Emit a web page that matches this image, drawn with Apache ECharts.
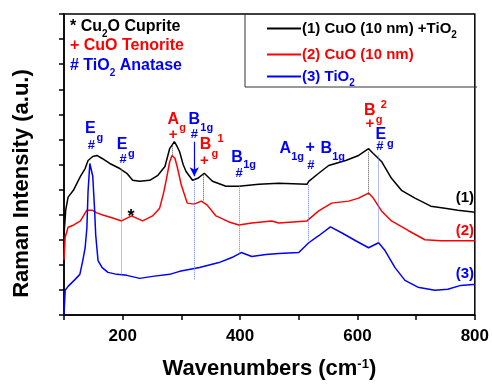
<!DOCTYPE html>
<html>
<head>
<meta charset="utf-8">
<script src="https://cdn.jsdelivr.net/npm/echarts@6/dist/echarts.min.js"></script>
<style>html,body{margin:0;padding:0;background:#fff}#c{width:492px;height:385px}</style>
</head>
<body>
<div id="c"></div>
<script>
// ---- data ----
const wnBlack = [100,103,107,116,128,136,141,149,156,165,178,195,207,217,229,246,260,272,280,285,288,292,297,303,308,319,328,339,353,376,398,432,466,514,517,534,551,580,602,619,627,641,658,675,698,725,749,771,797,800];
const intBlack = [3.2,4.2,4.7,4.97,5.53,5.84,6.16,6.32,6.36,6.24,6.04,5.84,5.65,5.37,5.33,5.37,5.57,5.92,6.63,6.8,6.91,6.75,6.51,6.0,5.72,5.37,5.45,5.65,5.33,5.13,5.13,5.21,5.25,5.21,5.33,5.65,5.96,6.16,6.36,6.63,6.44,6.12,5.45,4.97,4.66,4.34,4.26,4.18,4.11,4.08];

const wnRed = [100,102,107,116,128,139,148,156,166,183,198,215,234,251,263,270,276,280,284,289,293,300,310,322,334,344,359,381,398,420,454,466,514,517,534,556,585,602,619,627,641,658,687,715,742,771,797,800];
const intRed = [2.2,3.1,3.5,3.58,3.75,4.18,4.18,4.07,3.99,3.87,3.75,3.95,3.75,3.95,4.26,4.9,5.6,6.1,6.36,6.25,5.9,5.17,4.46,4.42,4.54,4.38,3.95,3.71,3.59,3.67,3.75,3.67,3.75,3.79,4.15,4.46,4.54,4.66,4.86,4.66,4.15,3.75,3.36,3.0,2.96,2.96,2.96,2.96];

const wnBlue = [100,102,107,119,127,132,136,139,141,144,147,149,152,154,156,158,165,175,190,207,229,251,280,297,331,364,386,402,420,444,466,500,517,534,554,573,597,619,636,647,664,681,703,732,754,776,797,800];
const intBlue = [0,0.99,1.14,1.42,1.62,2.17,2.68,3.47,4.93,6.04,6.0,5.53,4.26,3.2,2.68,2.17,1.89,1.70,1.62,1.58,1.46,1.54,1.62,1.74,1.89,2.09,2.29,2.49,2.33,2.41,2.45,2.49,2.88,3.16,3.51,3.28,2.96,2.68,2.88,2.57,1.89,1.38,1.11,0.99,1.03,1.18,1.22,1.22];

const seriesNames = ['(1) CuO (10 nm) +TiO2', '(2) CuO (10 nm)', '(3) TiO2'];
const xTicks = [200, 400, 600, 800];

// reference lines: [wavenumber, from, to, kind]
const refLines = [
  [198, 5.84, 1.58, 'b'],
  [285, 6.75, 6.36, 'k'],
  [322, 5.45, 1.38, 'b'],
  [338, 5.57, 4.54, 'k'],
  [398, 5.13, 2.41, 'b'],
  [517, 5.17, 2.96, 'b'],
  [619, 6.51, 4.78, 'k'],
  [636, 6.36, 2.88, 'b']
];
const arrowLine = [322, 6.91, 5.53];

// peak annotation anchors [wavenumber, intensity]
const peakAnchors = {
  Eg1: [145, 7.42], Eg2: [199, 6.79], star: [214, 3.99], Ag: [286, 7.78],
  B1g1: [322, 7.78], Bg1: [341, 6.79], B1g2: [395, 6.28], A1gB1g: [477, 6.65],
  Bg2: [621, 8.15], Eg3: [640, 7.19], lab1: [783, 4.66], lab2: [783, 3.36], lab3: [783, 1.64]
};

const zip = (a, b) => a.map((v, i) => [v, b[i]]);
const FF = '"Liberation Sans", Arial, sans-serif';
const BLUE = '#0000ff', RED = '#ff0000', BLACK = '#000000';

const chart = echarts.init(document.getElementById('c'), null, {renderer: 'canvas'});

const mlData = refLines.map(r => [
  {coord: [r[0], r[1]], lineStyle: {color: r[3] === 'b' ? '#6a7dff' : '#555', type: 'dotted', width: 1}},
  {coord: [r[0], r[2]]}
]);

chart.setOption({
  animation: false,
  grid: {left: 64, right: 15, top: 14, bottom: 67, show: true, borderColor: '#000', borderWidth: 1.5},
  xAxis: {
    type: 'value', min: 100, max: 800, interval: 100,
    name: 'Wavenumbers (cm{sup|-1})', nameLocation: 'middle', nameGap: 43,
    nameTextStyle: {fontFamily: FF, fontSize: 22, fontWeight: 'bold', color: '#000',
      rich: {sup: {fontFamily: FF, fontSize: 13, fontWeight: 'bold', verticalAlign: 'top', color: '#000'}}},
    axisLine: {show: true, lineStyle: {color: '#000', width: 1.5}},
    axisTick: {show: true, inside: false, length: 5, lineStyle: {color: '#000', width: 1.5}},
    axisLabel: {fontFamily: FF, fontSize: 17, fontWeight: 'bold', color: '#000', margin: 13,
      formatter: v => xTicks.includes(v) ? String(v) : ''},
    splitLine: {show: false}
  },
  yAxis: {
    type: 'value', min: 0, max: 12, interval: 1,
    name: 'Raman Intensity (a.u.)', nameLocation: 'middle', nameGap: 31,
    nameTextStyle: {fontFamily: FF, fontSize: 22, fontWeight: 'bold', color: '#000', padding: [0, 38, 0, 0]},
    axisLine: {show: true, lineStyle: {color: '#000', width: 1.5}},
    axisTick: {show: true, inside: false, length: 5, lineStyle: {color: '#000', width: 1.5}},
    axisLabel: {show: false},
    splitLine: {show: false}
  },
  legend: {
    orient: 'vertical', left: 262, top: 16, itemWidth: 34, itemHeight: 2, itemGap: 7,
    icon: 'rect',
    formatter: n => n.replace('TiO2', 'TiO{s|2}'),
    textStyle: {fontFamily: FF, fontSize: 15, fontWeight: 'bold', padding: [0, 0, 0, -4],
      rich: {s: {fontFamily: FF, fontSize: 10, fontWeight: 'bold', verticalAlign: 'bottom', padding: [0, 0, -4, 0]}}},
    data: [
      {name: seriesNames[0], textStyle: {color: BLACK}},
      {name: seriesNames[1], textStyle: {color: RED}},
      {name: seriesNames[2], textStyle: {color: BLUE}}
    ]
  },
  series: [
    {name: seriesNames[0], type: 'line', data: zip(wnBlack, intBlack), symbol: 'none', color: BLACK, lineStyle: {width: 1.5}, z: 3,
      markLine: {silent: true, symbol: 'none', label: {show: false}, data: mlData}},
    {name: seriesNames[1], type: 'line', data: zip(wnRed, intRed), symbol: 'none', color: RED, lineStyle: {width: 1.5}, z: 3},
    {name: seriesNames[2], type: 'line', data: zip(wnBlue, intBlue), symbol: 'none', color: BLUE, lineStyle: {width: 1.5}, z: 4,
      markLine: {silent: true, symbol: ['none', 'arrow'], symbolSize: [7, 9], label: {show: false},
        data: [[{coord: [arrowLine[0], arrowLine[1]], lineStyle: {color: BLUE, type: 'solid', width: 1.2}}, {coord: [arrowLine[0], arrowLine[2]]}]]}}
  ]
});

// ---- annotations (anchored in data space, converted by the library) ----
const P = a => chart.convertToPixel({gridIndex: 0}, a);
const gfx = [];
function txt(anchor, dx, dy, text, color, size, align) {
  const p = P(anchor);
  gfx.push({type: 'text', x: p[0] + dx, y: p[1] + dy, z: 20, silent: true,
    style: {text: text, fill: color, font: 'bold ' + size + 'px ' + FF, align: align || 'center', verticalAlign: 'middle'}});
}
const M = 16, S = 11, H = 13;
const A = peakAnchors;
txt(A.Eg1, 0, 0, 'E', BLUE, M); txt(A.Eg1, 6, 9, 'g', BLUE, S, 'left'); txt(A.Eg1, 1, 17, '#', BLUE, H);
txt(A.Eg2, 0, 0, 'E', BLUE, M); txt(A.Eg2, 6, 9, 'g', BLUE, S, 'left'); txt(A.Eg2, 1, 14.5, '#', BLUE, H);
txt(A.star, 0, 2, '*', BLACK, 18);
txt(A.Ag, 0, 0, 'A', RED, M); txt(A.Ag, 6, 8, 'g', RED, S, 'left'); txt(A.Ag, 0, 15, '+', RED, 15);
txt(A.B1g1, 0, 0, 'B', BLUE, M); txt(A.B1g1, 6, 8.5, '1g', BLUE, S, 'left'); txt(A.B1g1, 0, 15, '#', BLUE, H);
txt(A.Bg1, 0, 0, 'B', RED, M); txt(A.Bg1, 6, 9, 'g', RED, S, 'left'); txt(A.Bg1, 12, -6, '1', RED, S, 'left'); txt(A.Bg1, -1, 16.5, '+', RED, 15);
txt(A.B1g2, 0, 0, 'B', BLUE, M); txt(A.B1g2, 6, 7.5, '1g', BLUE, S, 'left'); txt(A.B1g2, 2, 16, '#', BLUE, H);
txt(A.A1gB1g, 0, 0, 'A', BLUE, M); txt(A.A1gB1g, 6, 9, '1g', BLUE, S, 'left');
txt(A.A1gB1g, 25, -0.5, '+', BLUE, M);
txt(A.A1gB1g, 41, 0, 'B', BLUE, M); txt(A.A1gB1g, 47, 9, '1g', BLUE, S, 'left');
txt(A.A1gB1g, 25.5, 17.5, '#', BLUE, H);
txt(A.Bg2, 0, 0, 'B', RED, M); txt(A.Bg2, 6, 9.5, 'g', RED, S, 'left'); txt(A.Bg2, 11, -6, '2', RED, S, 'left'); txt(A.Bg2, 0, 13.5, '+', RED, 15);
txt(A.Eg3, 0, 0, 'E', BLUE, M); txt(A.Eg3, 6, 9, 'g', BLUE, S, 'left'); txt(A.Eg3, -1, 12, '#', BLUE, H);
txt(A.lab1, 0, 0, '(1)', BLACK, 15); txt(A.lab2, 0, 0, '(2)', RED, 15); txt(A.lab3, 0, 0, '(3)', BLUE, 15);

// key of symbols (top-left)
const keyStyle = c => ({fill: c, font: 'bold 16px ' + FF, align: 'left', verticalAlign: 'middle',
  rich: {n: {fill: c, font: 'bold 16px ' + FF}, s: {fill: c, font: 'bold 10px ' + FF, verticalAlign: 'bottom', padding: [0, 0, -4, 0]}}});
gfx.push({type: 'text', left: 70, top: 19, z: 20, style: Object.assign(keyStyle(BLACK), {text: '{n|* Cu}{s|2}{n|O Cuprite}'})});
gfx.push({type: 'text', left: 70, top: 38, z: 20, style: Object.assign(keyStyle(RED), {text: '{n|+ CuO Tenorite}'})});
gfx.push({type: 'text', left: 70, top: 58, z: 20, style: Object.assign(keyStyle(BLUE), {text: '{n|# TiO}{s|2}{n| Anatase}'})});

// legend frame (left and bottom edges; top/right are the plot border)
gfx.push({type: 'polyline', z: 5, silent: true, shape: {points: [[245, 14], [245, 87], [477, 87]]},
  style: {stroke: '#333', lineWidth: 1, fill: null}});

chart.setOption({graphic: gfx});
</script>
</body>
</html>
